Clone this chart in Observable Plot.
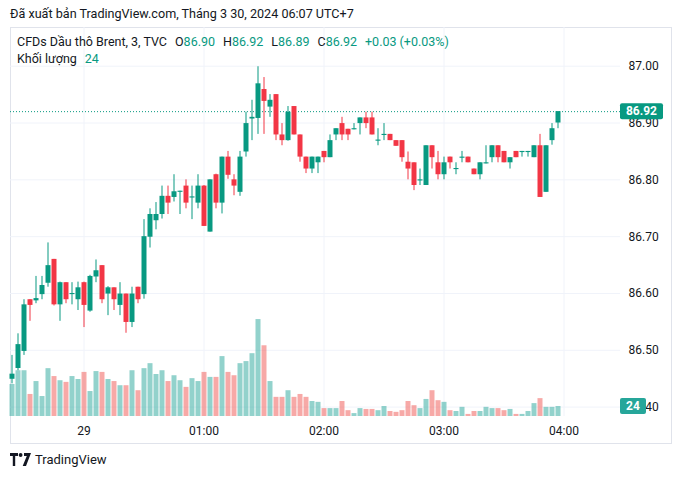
<!DOCTYPE html>
<html><head><meta charset="utf-8">
<script src="https://cdn.jsdelivr.net/npm/d3@7"></script>
<script src="https://cdn.jsdelivr.net/npm/@observablehq/plot@0.6"></script>
<style>
body{margin:0;background:#fff;font-family:Roboto,"Noto Sans",sans-serif;color:#131722;}
#wrap{position:relative;width:682px;height:479px;overflow:hidden;background:#fff;}
#price,#vol{position:absolute;left:0;top:0;}
#vol{pointer-events:none;}
.frame{position:absolute;left:10px;top:27px;width:662px;height:417px;box-sizing:border-box;border:1px solid #e0e3eb;}
.pub{position:absolute;left:10px;top:6px;font-size:12.6px;white-space:nowrap;}
.leg{position:absolute;left:17px;font-size:12.5px;white-space:nowrap;}
.leg .g{color:#089981;}
.leg .s{display:inline-block;width:8px;}
.logo{position:absolute;left:10px;top:452px;font-size:13px;display:flex;align-items:center;gap:4px;}
</style></head><body>
<div id="wrap">
  <div class="frame"></div>
  <div id="price"></div>
  <div id="vol"></div>
  <div class="pub">Đã xuất bản TradingView.com, Tháng 3 30, 2024 06:07 UTC+7</div>
  <div class="leg" id="leg1" style="top:34px"></div>
  <div class="leg" id="leg2" style="top:51px"></div>
  <div class="logo"><svg width="21" height="13" viewBox="0 0 21 13"><path d="M0 0h8v3H5.2v10H2.8V3H0z" fill="#131722"/><circle cx="10.6" cy="2" r="1.9" fill="#131722"/><path d="M14 0h7l-5 13h-3.3l4.1-10H14z" fill="#131722"/></svg><span>TradingView</span></div>
</div>
<script>
// 3-minute candles, first candle at 23:24 (28 Mar), last at 03:57
const startTime = "2024-03-28T23:24:00Z";
const stepMinutes = 3;
const open  = [86.449,86.468,86.498,86.589,86.587,86.598,86.618,86.660,86.580,86.619,
               86.598,86.589,86.619,86.569,86.629,86.649,86.599,86.610,86.579,86.599,
               86.549,86.611,86.598,86.699,86.728,86.739,86.771,86.769,86.778,86.789,
               86.768,86.759,86.789,86.708,86.809,86.759,86.840,86.800,86.778,86.849,
               86.907,86.908,86.959,86.928,86.950,86.879,86.869,86.929,86.879,86.840,
               86.819,86.830,86.850,86.839,86.879,86.899,86.889,86.888,86.899,86.909,
               86.909,86.868,86.878,86.880,86.869,86.869,86.831,86.830,86.798,86.790,
               86.860,86.830,86.809,86.840,86.818,86.838,86.840,86.819,86.809,86.828,
               86.839,86.860,86.850,86.830,86.850,86.848,86.848,86.839,86.860,86.778,
               86.869,86.900];
const high  = [86.491,86.529,86.589,86.589,86.630,86.630,86.689,86.660,86.620,86.619,
               86.619,86.620,86.620,86.632,86.659,86.649,86.612,86.610,86.619,86.599,
               86.611,86.611,86.730,86.749,86.760,86.789,86.789,86.809,86.780,86.800,
               86.789,86.809,86.790,86.800,86.810,86.840,86.850,86.809,86.850,86.919,
               86.940,86.999,86.980,86.950,86.950,86.899,86.929,86.929,86.879,86.840,
               86.840,86.840,86.850,86.879,86.890,86.910,86.889,86.899,86.909,86.919,
               86.919,86.890,86.899,86.880,86.869,86.869,86.849,86.830,86.819,86.860,
               86.860,86.850,86.840,86.840,86.830,86.850,86.840,86.819,86.830,86.860,
               86.860,86.860,86.850,86.839,86.850,86.850,86.850,86.860,86.880,86.860,
               86.899,86.920];
const low   = [86.441,86.464,86.491,86.551,86.582,86.589,86.611,86.578,86.551,86.582,
               86.580,86.570,86.540,86.567,86.619,86.582,86.561,86.570,86.561,86.530,
               86.540,86.582,86.590,86.680,86.712,86.731,86.739,86.761,86.739,86.749,
               86.730,86.749,86.718,86.708,86.749,86.740,86.801,86.772,86.771,86.840,
               86.869,86.880,86.880,86.910,86.869,86.860,86.868,86.879,86.831,86.811,
               86.811,86.811,86.830,86.839,86.869,86.869,86.869,86.888,86.879,86.890,
               86.879,86.860,86.869,86.869,86.859,86.831,86.800,86.781,86.790,86.790,
               86.819,86.800,86.800,86.819,86.809,86.830,86.830,86.809,86.800,86.828,
               86.830,86.830,86.830,86.819,86.839,86.840,86.840,86.839,86.769,86.778,
               86.861,86.890];
const close = [86.458,86.510,86.580,86.579,86.591,86.614,86.649,86.580,86.619,86.589,
               86.600,86.610,86.579,86.630,86.640,86.589,86.610,86.589,86.599,86.549,
               86.599,86.589,86.700,86.739,86.739,86.771,86.759,86.779,86.780,86.759,
               86.770,86.789,86.718,86.800,86.759,86.840,86.808,86.789,86.840,86.899,
               86.910,86.969,86.938,86.940,86.879,86.869,86.919,86.879,86.840,86.819,
               86.840,86.840,86.839,86.869,86.890,86.879,86.879,86.890,86.909,86.899,
               86.879,86.870,86.880,86.869,86.859,86.839,86.819,86.790,86.800,86.860,
               86.839,86.809,86.830,86.830,86.820,86.840,86.830,86.809,86.830,86.830,
               86.860,86.839,86.830,86.839,86.839,86.850,86.850,86.860,86.769,86.860,
               86.890,86.920];
const volume = [77,110,110,53,84,48,115,96,86,82,
                96,89,106,60,108,106,89,84,74,74,
                110,62,115,127,101,110,84,98,86,70,
                91,84,106,94,94,144,106,98,127,132,
                151,233,170,84,46,46,62,46,53,46,
                36,34,19,19,19,36,14,7,19,17,
                17,14,24,12,10,14,36,26,19,41,
                62,38,34,14,12,22,5,12,12,22,
                19,19,14,17,5,5,12,31,43,22,
                22,24];
const priceTicks = [86.40, 86.50, 86.60, 86.70, 86.80, 86.90, 87.00];

const GREEN = "#089981", RED = "#f23645";
const VGREEN = "#26a69a", VRED = "#ef5350";
const t0 = new Date(startTime).getTime();
const MIN = 60000;
const candles = open.map((o, i) => ({
  date: new Date(t0 + i * stepMinutes * MIN),
  open: o, high: high[i], low: low[i], close: close[i], volume: volume[i],
  up: close[i] >= o
}));
const last = candles[candles.length - 1];
const prev = candles[candles.length - 2];

const xDomain = [new Date(t0 - 0.75 * MIN), new Date(t0 + 304.25 * MIN)];
const yDomain = [86.3835, 87.0681];
const hourTicks = d3.utcHour.range(xDomain[0], xDomain[1]);
const timeFmt = d => d.getUTCHours() === 0 ? String(d.getUTCDate()) : d3.utcFormat("%H:%M")(d);
const f2 = d3.format(".2f");

function boxLabel(scaleValue, text, color, w) {
  return (index, scales, values, dims) => {
    const y = scales.y(scaleValue);
    const x0 = dims.width - dims.marginRight;
    const g = d3.create("svg:g");
    g.append("rect").attr("x", x0).attr("y", y - 8).attr("width", w).attr("height", 16)
      .attr("rx", 2).attr("fill", color);
    g.append("text").attr("x", x0 + w / 2).attr("y", y).attr("dy", "0.35em")
      .attr("text-anchor", "middle").attr("fill", "#fff").attr("font-weight", "bold")
      .attr("font-size", 12).attr("font-family", "Roboto, sans-serif").text(text);
    return g.node();
  };
}

const common = {width: 682, height: 445, marginTop: 27, marginBottom: 29, marginLeft: 10, marginRight: 62};

const pricePlot = Plot.plot({
  ...common,
  style: {background: "transparent", fontFamily: "Roboto, sans-serif", fontSize: "12px", color: "#131722", overflow: "visible"},
  x: {type: "utc", domain: xDomain},
  y: {domain: yDomain},
  marks: [
    Plot.gridX(hourTicks, {stroke: "#f0f3fa", strokeOpacity: 1}),
    Plot.gridY(priceTicks, {stroke: "#f0f3fa", strokeOpacity: 1}),
    Plot.axisX(hourTicks, {tickSize: 0, tickPadding: 10, tickFormat: timeFmt, fill: "#131722", fontSize: 12}),
    Plot.axisY(priceTicks, {anchor: "right", tickSize: 0, tickPadding: 8, tickFormat: f2, fill: "#131722", fontSize: 12}),
    Plot.ruleY([last.close], {stroke: GREEN, strokeDasharray: "1,2"}),
    Plot.ruleX(candles, {x: "date", y1: "low", y2: "high", stroke: d => d.up ? GREEN : RED, strokeWidth: 1}),
    Plot.ruleX(candles, {x: "date", y1: "open", y2: "close", stroke: d => d.up ? GREEN : RED, strokeWidth: 5}),
    boxLabel(last.close, f2(last.close), GREEN, 43)
  ]
});
document.getElementById("price").append(pricePlot);

const volPlot = Plot.plot({
  ...common,
  style: {background: "transparent", overflow: "visible"},
  x: {type: "utc", domain: xDomain, axis: null},
  y: {domain: [0, 935], axis: null},
  marks: [
    Plot.ruleX(candles, {x: "date", y1: 0, y2: "volume", stroke: d => d.up ? VGREEN : VRED, strokeOpacity: 0.5, strokeWidth: 5}),
    boxLabel(last.volume, String(last.volume), VGREEN, 26)
  ]
});
document.getElementById("vol").append(volPlot);

const chg = last.close - prev.close;
const sign = chg >= 0 ? "+" : "";
const sp = '<span class="s"></span>';
document.getElementById("leg1").innerHTML =
  `CFDs Dầu thô Brent, 3, TVC${sp}O<span class="g">${f2(last.open)}</span>${sp}H<span class="g">${f2(last.high)}</span>${sp}L<span class="g">${f2(last.low)}</span>${sp}C<span class="g">${f2(last.close)}</span>${sp}<span class="g">${sign}${f2(chg)} (${sign}${f2(chg / prev.close * 100)}%)</span>`;
document.getElementById("leg2").innerHTML = `Khối lượng${sp}<span class="g">${last.volume}</span>`;
</script>
</body></html>
